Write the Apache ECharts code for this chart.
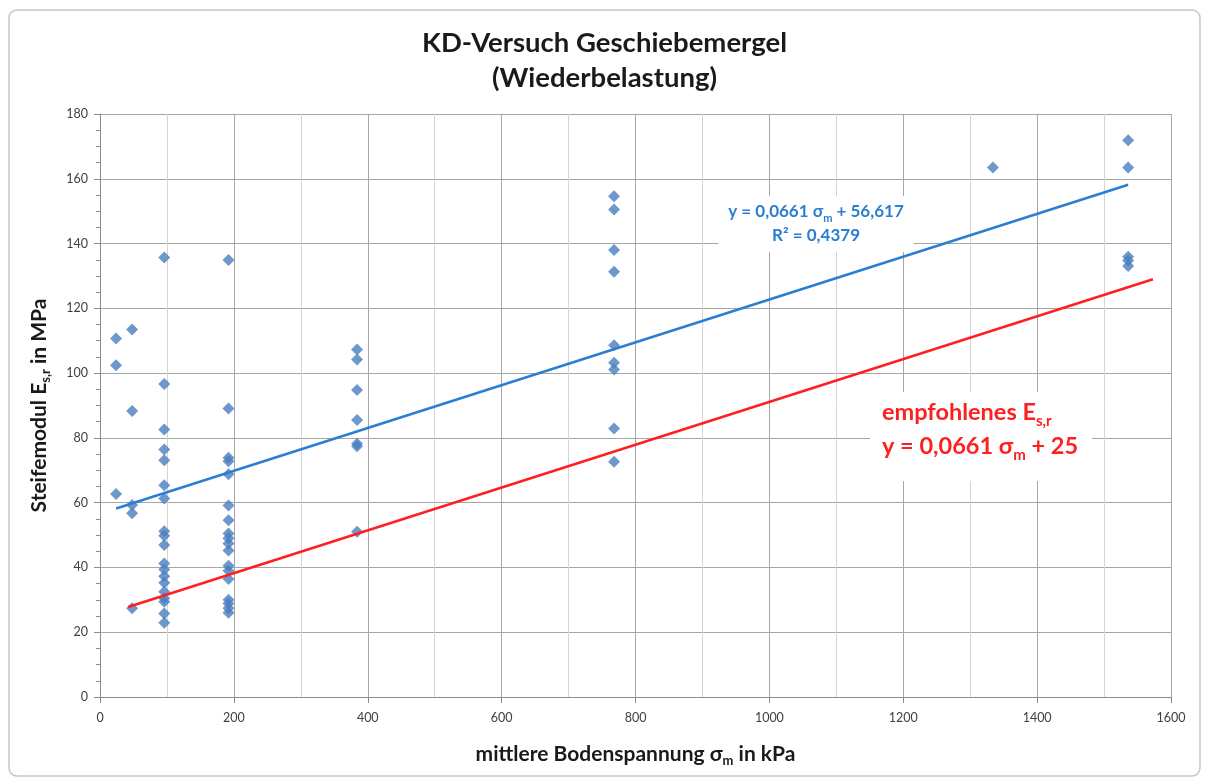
<!DOCTYPE html>
<html>
<head>
<meta charset="utf-8">
<script src="https://cdn.jsdelivr.net/npm/echarts@6/dist/echarts.min.js"></script>
<style>
  html, body { margin: 0; padding: 0; background: #ffffff; }
  #chart { width: 1209px; height: 780px; }
</style>
</head>
<body>
<div id="chart"></div>
<script>
// Mean soil stress levels (kPa) and the measured reloading moduli (MPa) at each level
const stress24 = [110.7, 102.4, 62.7];
const stress48 = [113.5, 88.3, 59.3, 56.7, 27.4];
const stress96 = [135.7, 96.6, 82.6, 76.4, 73.1, 65.4, 61.3, 51.2, 49.8, 46.9, 41.2, 39.4, 37.3, 35.3, 32.5, 30.5, 29.4, 25.8, 22.9];
const stress192 = [134.9, 89.1, 73.9, 72.8, 68.8, 59.1, 54.6, 50.5, 49.0, 47.4, 45.2, 40.5, 39.0, 36.4, 30.0, 28.9, 27.4, 26.0];
const stress384 = [107.3, 104.2, 94.8, 85.5, 78.2, 77.4, 51.0];
const stress768 = [154.6, 150.5, 138.0, 131.3, 108.6, 103.2, 101.1, 82.9, 72.6];
const stress1334 = [163.5];
const stress1536 = [171.9, 163.5, 135.9, 134.8, 133.1];

const stressLevels = [24, 48, 96, 192, 384, 768, 1334, 1536];
const moduliByLevel = [stress24, stress48, stress96, stress192, stress384, stress768, stress1334, stress1536];

// Linear trend (fit) and recommended design line: E = slope * sigma + intercept
const trendSlope = 0.0661, trendIntercept = 56.617, trendRange = [24, 1536];
const recSlope = 0.0661, recIntercept = 25, recRange = [42, 1573];

const xTicks = [0, 200, 400, 600, 800, 1000, 1200, 1400, 1600];
const yTicks = [0, 20, 40, 60, 80, 100, 120, 140, 160, 180];

const points = [];
stressLevels.forEach((s, i) => moduliByLevel[i].forEach(v => points.push([s, v])));

const lineFrom = (m, b, r) => r.map(x => [x, m * x + b]);

const FONT = 'Lato';

const chart = echarts.init(document.getElementById('chart'), null, { renderer: 'canvas' });
chart.setOption({
  animation: false,
  backgroundColor: '#ffffff',
  textStyle: { fontFamily: FONT },
  title: {
    text: 'KD-Versuch Geschiebemergel\n(Wiederbelastung)',
    left: 'center',
    top: 21,
    textStyle: { fontFamily: FONT, fontWeight: 'bold', fontSize: 27.5, lineHeight: 35, color: '#1a1a1a' }
  },
  grid: { left: 100, top: 114, width: 1071, height: 583, show: false },
  xAxis: {
    type: 'value',
    min: xTicks[0], max: xTicks[xTicks.length - 1], interval: 200,
    axisLine: { show: true, lineStyle: { color: '#8c8c8c', width: 1 } },
    axisTick: { show: true, length: 6, lineStyle: { color: '#8c8c8c' } },
    minorTick: { show: false, splitNumber: 2 },
    axisLabel: { color: '#404040', fontSize: 12.5, margin: 14, fontFamily: FONT, formatter: v => String(v) },
    splitLine: { show: true, lineStyle: { color: '#a6a6a6', width: 1 } },
    minorSplitLine: { show: true, lineStyle: { color: '#d4d4d4', width: 1 } },
    name: '{b|mittlere Bodenspannung }{b|σ}{s|m}{b| in kPa}',
    nameLocation: 'middle',
    nameGap: 44,
    nameTextStyle: {
      rich: {
        b: { fontFamily: FONT, fontWeight: 'bold', fontSize: 21, color: '#1a1a1a', lineHeight: 26 },
        s: { fontFamily: FONT, fontWeight: 'bold', fontSize: 13, color: '#1a1a1a', lineHeight: 14, verticalAlign: 'bottom' }
      }
    }
  },
  yAxis: {
    type: 'value',
    min: yTicks[0], max: yTicks[yTicks.length - 1], interval: 20,
    axisLine: { show: true, lineStyle: { color: '#8c8c8c', width: 1 } },
    axisTick: { show: true, length: 6, lineStyle: { color: '#8c8c8c' } },
    minorTick: { show: true, splitNumber: 4, length: 4, lineStyle: { color: '#8c8c8c' } },
    axisLabel: { color: '#404040', fontSize: 12.5, margin: 12, fontFamily: FONT },
    splitLine: { show: true, lineStyle: { color: '#a6a6a6', width: 1 } },
    name: '{b|Steifemodul E}{s|s,r}{b| in MPa}',
    nameLocation: 'middle',
    nameGap: 48,
    nameRotate: 90,
    nameTextStyle: {
      rich: {
        b: { fontFamily: FONT, fontWeight: 'bold', fontSize: 21, color: '#1a1a1a', lineHeight: 26 },
        s: { fontFamily: FONT, fontWeight: 'bold', fontSize: 13, color: '#1a1a1a', lineHeight: 14, verticalAlign: 'bottom' }
      }
    }
  },
  series: [
    {
      name: 'Steifemodul',
      type: 'scatter',
      symbol: 'diamond',
      symbolSize: 12,
      itemStyle: { color: '#4a7ebf' },
      data: points,
      z: 3
    },
    {
      name: 'Trend',
      type: 'line',
      data: lineFrom(trendSlope, trendIntercept, trendRange),
      showSymbol: false,
      symbol: 'none',
      lineStyle: { color: '#2a7fd0', width: 2.5 },
      z: 4
    },
    {
      name: 'empfohlen',
      type: 'line',
      data: lineFrom(recSlope, recIntercept, recRange),
      showSymbol: false,
      symbol: 'none',
      lineStyle: { color: '#ff1f1f', width: 2.5 },
      z: 4
    }
  ],
  graphic: [
    {
      type: 'rect',
      shape: { x: 9, y: 10, width: 1191, height: 766, r: 8 },
      style: { fill: 'none', stroke: '#c6c6c6', lineWidth: 1.5 },
      silent: true,
      z: 0
    },
    {
      type: 'text',
      x: 816, y: 224,
      style: {
        text: '{t|y = 0,0661 σ}{s|m}{t| + 56,617}\n{t|R² = 0,4379}',
        align: 'center',
        verticalAlign: 'middle',
        backgroundColor: '#ffffff',
        padding: [4, 10, 4, 10],
        rich: {
          t: { fontFamily: FONT, fontWeight: 'bold', fontSize: 17, fill: '#2a7fd0', lineHeight: 24 },
          s: { fontFamily: FONT, fontWeight: 'bold', fontSize: 11, fill: '#2a7fd0', lineHeight: 14, verticalAlign: 'bottom' }
        }
      },
      z: 10
    },
    {
      type: 'text',
      x: 870, y: 392,
      style: {
        text: '{t|empfohlenes E}{s|s,r}\n{t|y = 0,0661 σ}{s|m}{t| + 25}',
        align: 'left',
        verticalAlign: 'top',
        backgroundColor: '#ffffff',
        padding: [3, 14, 18, 12],
        rich: {
          t: { fontFamily: FONT, fontWeight: 'bold', fontSize: 23.5, fill: '#ff1f1f', lineHeight: 34 },
          s: { fontFamily: FONT, fontWeight: 'bold', fontSize: 15, fill: '#ff1f1f', lineHeight: 20, verticalAlign: 'bottom' }
        }
      },
      z: 10
    }
  ]
});
</script>
</body>
</html>
